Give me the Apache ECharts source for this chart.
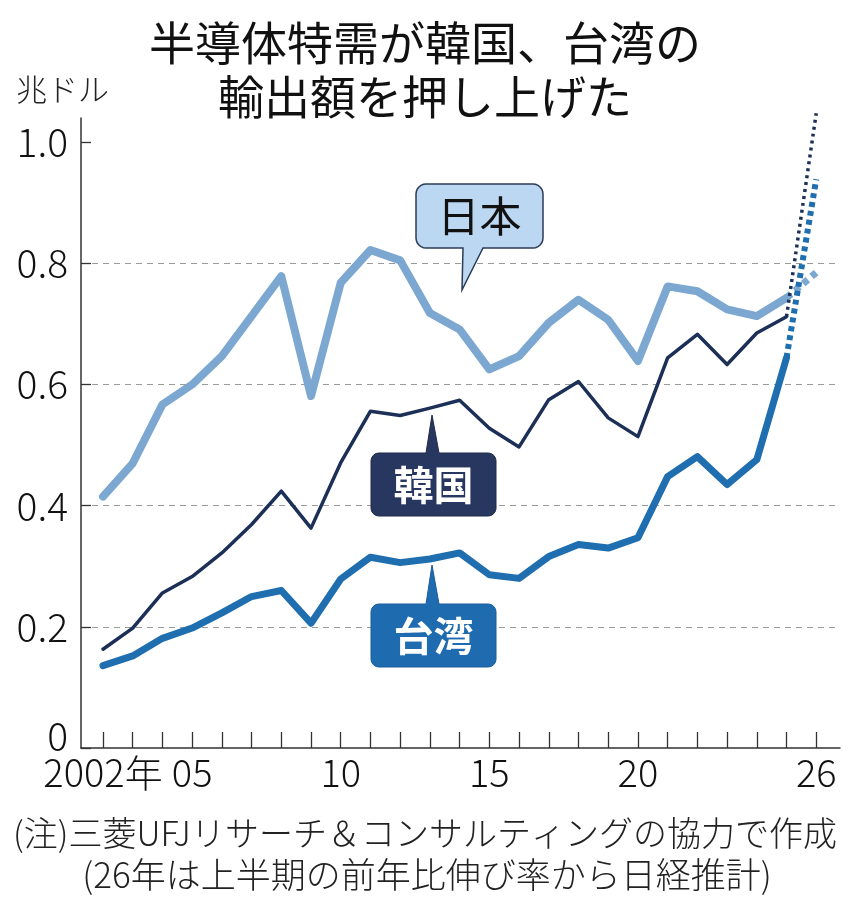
<!DOCTYPE html>
<html><head><meta charset="utf-8">
<script src="https://cdn.jsdelivr.net/npm/echarts@6/dist/echarts.min.js"></script>
<style>html,body{margin:0;padding:0;background:#fff;}#c{width:850px;height:908px;}</style>
</head><body><div id="c"></div>
<script>
// ---- data (trillion US$) ----
const years  = [2002,2003,2004,2005,2006,2007,2008,2009,2010,2011,2012,2013,2014,2015,2016,2017,2018,2019,2020,2021,2022,2023,2024,2025,2026];
const japan  = [0.415,0.470,0.567,0.600,0.647,0.713,0.779,0.581,0.768,0.822,0.805,0.718,0.691,0.625,0.647,0.702,0.740,0.707,0.639,0.762,0.754,0.724,0.713,0.743,0.785];
const korea  = [0.163,0.198,0.256,0.283,0.322,0.369,0.424,0.363,0.471,0.556,0.549,0.561,0.574,0.528,0.497,0.575,0.605,0.545,0.514,0.644,0.683,0.633,0.685,0.712,1.048];
const taiwan = [0.136,0.152,0.181,0.198,0.223,0.250,0.260,0.206,0.279,0.315,0.306,0.312,0.322,0.286,0.280,0.316,0.336,0.330,0.347,0.448,0.481,0.435,0.476,0.644,0.939];
const estimateFrom = 2025;           // 2026 is an estimate (dotted)
const yTicks = [0,0.2,0.4,0.6,0.8,1.0];
const xLabelYears = [2002,2005,2010,2015,2020,2026];
const xLabelTexts = ['2002年','05','10','15','20','26'];
const titleText = '半導体特需が韓国、台湾の\n輸出額を押し上げた';
const unitText = '兆ドル';
const note1 = '(注)三菱UFJリサーチ＆コンサルティングの協力で作成';
const note2 = '(26年は上半期の前年比伸び率から日経推計)';

function solid(vals){ return years.map((y,i)=>[y,vals[i]]).filter(d=>d[0]<=estimateFrom); }
function dotted(vals){ return years.map((y,i)=>[y,vals[i]]).filter(d=>d[0]>=estimateFrom); }

// rounded box + speech tail as polygon points (layout only)
function bubble(x0,y0,x1,y1,r,tail){
  const pts=[];
  function arc(cx,cy,s,e){ for(let k=0;k<=6;k++){const t=s+(e-s)*k/6; pts.push([cx+r*Math.cos(t),cy+r*Math.sin(t)]);} }
  arc(x0+r,y0+r,Math.PI,1.5*Math.PI);
  if(tail.side==='top'){ pts.push([tail.a,y0],[tail.tx,tail.ty],[tail.b,y0]); }
  arc(x1-r,y0+r,1.5*Math.PI,2*Math.PI);
  arc(x1-r,y1-r,0,0.5*Math.PI);
  if(tail.side==='bottom'){ pts.push([tail.b,y1],[tail.tx,tail.ty],[tail.a,y1]); }
  arc(x0+r,y1-r,0.5*Math.PI,Math.PI);
  return pts;
}

const CJK = "'Noto Sans CJK JP','Noto Sans CJK SC',sans-serif";

const cJapan = '#7ba7d1', cKorea = '#1c2f57', cTaiwan = '#1e6eb0';

const chart = echarts.init(document.getElementById('c'), null, {renderer:'canvas'});
chart.setOption({
  animation:false,
  backgroundColor:'#fff',
  title:{
    text:titleText, left:'center', top:11,
    textStyle:{fontFamily:CJK,fontSize:46,fontWeight:'normal',color:'#111',lineHeight:54}
  },
  grid:{left:81,right:10,top:118,bottom:160,containLabel:false},
  xAxis:{
    type:'value', min:2001.26, max:2026.8,
    axisLine:{show:true,lineStyle:{color:'#333',width:1.5}},
    axisTick:{show:true,inside:true,length:16,customValues:years,lineStyle:{color:'#333',width:1.3}},
    axisLabel:{customValues:xLabelYears,margin:6,fontFamily:CJK,fontWeight:300,fontSize:38,color:'#111',
      formatter:v=>{const i=xLabelYears.indexOf(Math.round(v));return i>=0?xLabelTexts[i]:'';}},
    splitLine:{show:false}
  },
  yAxis:{
    type:'value', min:0, max:1.04,
    axisLine:{show:true,lineStyle:{color:'#333',width:1.5}},
    axisTick:{show:true,inside:true,length:10,customValues:yTicks,lineStyle:{color:'#333',width:1.3}},
    axisLabel:{customValues:yTicks,margin:13,fontFamily:CJK,fontWeight:300,fontSize:39,color:'#111',
      formatter:v=>v===0?'{z|0}':v.toFixed(1),
      rich:{z:{fontFamily:CJK,fontWeight:300,fontSize:39,color:'#111',padding:[0,0,24,0]}}},
    splitLine:{show:true,showMinLine:false,showMaxLine:false,
      lineStyle:{color:'#9a9a9a',width:1.2,type:[6,5]}}
  },
  series:[
    {type:'line',name:'日本',data:solid(japan),symbol:'none',z:2,
      lineStyle:{color:cJapan,width:8,join:'round',cap:'round'}},
    {type:'line',name:'日本推計',data:dotted(japan),symbol:'none',z:2,clip:false,
      lineStyle:{color:cJapan,width:7,type:[6,5],cap:'butt'}},
    {type:'line',name:'台湾',data:solid(taiwan),symbol:'none',z:3,
      lineStyle:{color:cTaiwan,width:7,join:'round',cap:'round'}},
    {type:'line',name:'台湾推計',data:dotted(taiwan),symbol:'none',z:3,clip:false,
      lineStyle:{color:cTaiwan,width:6,type:[5,4],cap:'butt'}},
    {type:'line',name:'韓国',data:solid(korea),symbol:'none',z:4,
      lineStyle:{color:cKorea,width:3.5,join:'round',cap:'round'}},
    {type:'line',name:'韓国推計',data:dotted(korea),symbol:'none',z:4,clip:false,
      lineStyle:{color:cKorea,width:3.5,type:[3,4],cap:'butt'}}
  ],
  graphic:[
    {type:'text',x:16,y:74,style:{text:unitText,font:"300 31px "+CJK,fill:'#222'}},
    {type:'polygon',z:10,shape:{points:bubble(416,184,543,248,10,{side:'bottom',a:463,b:483,tx:462,ty:290})},
      style:{fill:'#bcd7f1',stroke:'#2c3b57',lineWidth:1.5}},
    {type:'text',z:11,x:479.5,y:216,style:{text:'日本',font:"42px "+CJK,fill:'#111',align:'center',verticalAlign:'middle'}},
    {type:'polygon',z:10,shape:{points:bubble(371,453,496,516,8,{side:'top',a:426,b:439,tx:432,ty:415})},
      style:{fill:'#27375f',stroke:'#1e2b4a',lineWidth:1}},
    {type:'text',z:11,x:433.5,y:485,style:{text:'韓国',font:"bold 40px "+CJK,fill:'#fff',align:'center',verticalAlign:'middle'}},
    {type:'polygon',z:10,shape:{points:bubble(371,604,496,667,8,{side:'top',a:426,b:439,tx:432,ty:565})},
      style:{fill:'#1f6bb0',stroke:'#1a5e9c',lineWidth:1}},
    {type:'text',z:11,x:433.5,y:636,style:{text:'台湾',font:"bold 40px "+CJK,fill:'#fff',align:'center',verticalAlign:'middle'}},
    {type:'text',x:425,y:833,style:{text:note1,font:"300 34px "+CJK,fill:'#222',align:'center',verticalAlign:'middle'}},
    {type:'text',x:427,y:875,style:{text:note2,font:"300 35px "+CJK,fill:'#222',align:'center',verticalAlign:'middle'}}
  ]
});
</script></body></html>
